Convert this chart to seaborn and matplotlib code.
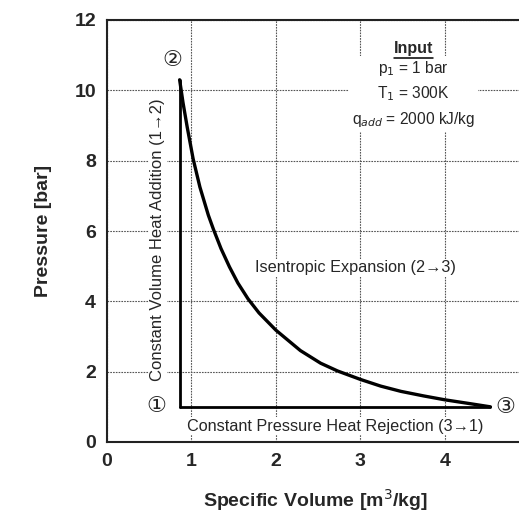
import matplotlib
matplotlib.use("Agg")
import matplotlib.pyplot as plt
import seaborn as sns
import pandas as pd

# Isentropic expansion curve 2 -> 3
v_isen = [0.86, 0.9, 0.95, 1.02, 1.1, 1.2, 1.26, 1.35, 1.45, 1.55, 1.67, 1.8, 2.0,
          2.15, 2.29, 2.53, 2.73, 3.0, 3.24, 3.48, 3.75, 4.0, 4.3, 4.54]
p_isen = [10.3, 9.65, 8.95, 8.05, 7.25, 6.45, 6.05, 5.5, 4.98, 4.52, 4.07, 3.67, 3.18,
          2.88, 2.6, 2.24, 2.02, 1.78, 1.59, 1.44, 1.31, 1.2, 1.09, 1.0]
# Constant volume heat addition 1 -> 2
v_cv = [0.86, 0.86]
p_cv = [1.0, 10.3]
# Constant pressure heat rejection 3 -> 1
v_cp = [4.54, 0.86]
p_cp = [1.0, 1.0]

x_ticks = [0, 1, 2, 3, 4]
y_ticks = [0, 2, 4, 6, 8, 10, 12]

sns.set_style("white")
plt.rcParams['font.family'] = ['Liberation Sans', 'DejaVu Sans']

fig = plt.figure(figsize=(5.19, 5.13), dpi=100)
ax = fig.add_axes([107/519, 1 - 442/513, 1 - 107/519 + 0.01, (442 - 20)/513])

df_isen = pd.DataFrame({"v": v_isen, "p": p_isen})
df_cv = pd.DataFrame({"v": v_cv, "p": p_cv})
df_cp = pd.DataFrame({"v": v_cp, "p": p_cp})
sns.lineplot(data=df_isen, x="v", y="p", ax=ax, color="black", lw=2.4, sort=False,
             estimator=None, zorder=4, solid_joinstyle="round", solid_capstyle="round")
sns.lineplot(data=df_cv, x="v", y="p", ax=ax, color="black", lw=2.0, sort=False,
             estimator=None, zorder=4)
sns.lineplot(data=df_cp, x="v", y="p", ax=ax, color="black", lw=2.0, sort=False,
             estimator=None, zorder=4)

ax.set_xlim(0, 4.94)
ax.set_ylim(0, 12)
ax.set_xticks(x_ticks)
ax.set_yticks(y_ticks)
ax.grid(True, color="#555555", linestyle=(0, (1.5, 1)), linewidth=0.8)
for s in ["left", "bottom", "top"]:
    ax.spines[s].set_color("#222222")
    ax.spines[s].set_linewidth(1.5)
ax.spines["right"].set_visible(False)
ax.tick_params(axis="both", labelsize=14, length=0, pad=8)
for lab in ax.get_xticklabels() + ax.get_yticklabels():
    lab.set_fontweight("bold")
ax.set_xlabel("Specific Volume [m$^3$/kg]", fontsize=14, fontweight="bold", labelpad=12)
ax.set_ylabel("Pressure [bar]", fontsize=14, fontweight="bold", labelpad=16)

wb = dict(facecolor="white", edgecolor="none", pad=1.0)
ax.text(0.77, 10.85, "②", fontsize=16, ha="center", va="center", family=["DejaVu Sans"], zorder=5)
ax.text(0.59, 1.02, "①", fontsize=16, ha="center", va="center", family=["DejaVu Sans"], zorder=5)
ax.text(4.72, 1.0, "③", fontsize=16, ha="center", va="center", family=["DejaVu Sans"], zorder=5)

ax.text(0.6, 5.75, "Constant Volume Heat Addition (1→2)", rotation=90, fontsize=12,
        ha="center", va="center", bbox=wb, zorder=3)
ax.text(2.94, 4.95, "Isentropic Expansion (2→3)", fontsize=11.7, ha="center", va="center",
        bbox=wb, zorder=3)
ax.text(2.7, 0.45, "Constant Pressure Heat Rejection (3→1)", fontsize=11.7, ha="center",
        va="center", bbox=wb, zorder=3)

ax.text(3.63, 11.2, "Input", fontsize=11.5, fontweight="bold", ha="center", va="center", zorder=5)
ax.plot([3.4, 3.86], [10.93, 10.93], color="black", lw=1.1, zorder=5)
ax.text(3.63, 9.9, "p$_1$ = 1 bar\nT$_1$ = 300K\nq$_{add}$ = 2000 kJ/kg", fontsize=11.2,
        ha="center", va="center", linespacing=1.5,
        bbox=dict(facecolor="white", edgecolor="none", pad=2), zorder=3)

fig.savefig("out.png", dpi=100)
